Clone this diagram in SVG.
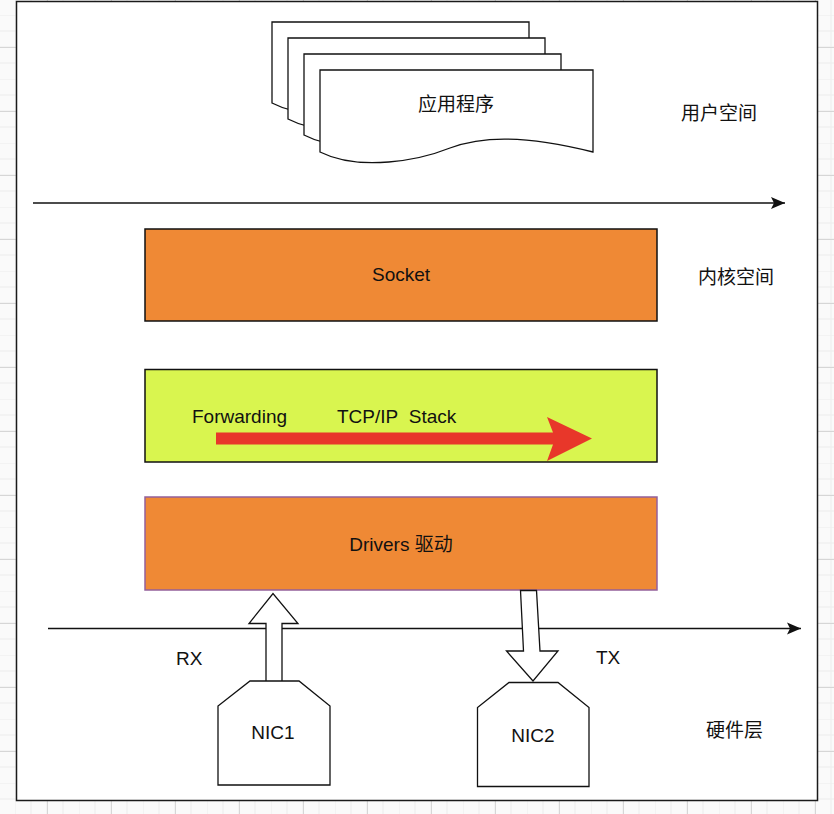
<svg xmlns="http://www.w3.org/2000/svg" width="834" height="814" viewBox="0 0 834 814">
<defs>
<pattern id="grid" x="15" y="15" width="64" height="64" patternUnits="userSpaceOnUse">
<path d="M0,0 H64 M0,16 H64 M0,32 H64 M0,48 H64 M0,0 V64 M16,0 V64 M32,0 V64 M48,0 V64" stroke="#ececec" stroke-width="1" fill="none"/>
<path d="M0,32.5 H64 M32.5,0 V64" stroke="#d6d6d6" stroke-width="1" fill="none"/>
</pattern>
<marker id="arr" markerWidth="16" markerHeight="14" refX="14" refY="7" orient="auto" markerUnits="userSpaceOnUse">
<path d="M0,1 L14,7 L0,13 L3,7 Z" fill="#111"/>
</marker>
<style>
.t{font-family:"Liberation Sans","Noto Sans CJK SC",sans-serif;font-size:19px;fill:#111}
.c{text-anchor:middle}
.doc{fill:#fff;stroke:#111;stroke-width:1.3}
.box{stroke-width:1.5}
.orange{fill:#EF8935}
.blk{fill:#fff;stroke:#111;stroke-width:1.3;stroke-linejoin:miter}
</style>
</defs>
<rect width="834" height="814" fill="#fafafa"/>
<rect width="834" height="814" fill="url(#grid)"/>
<rect id="frame" x="16.5" y="1.5" width="801" height="799" fill="#fff" stroke="#1a1a1a" stroke-width="1.5"/>

<g id="apps">
<path class="doc" d="M272,22 H529 V103 C460,85 422,88 394,99 C366,111 310,123 272,103 Z"/>
<path class="doc" d="M288,38 H545 V119 C476,101 438,104 410,115 C382,127 326,139 288,119 Z"/>
<path class="doc" d="M304,54 H561 V135 C492,117 454,120 426,131 C398,143 342,155 304,135 Z"/>
<path class="doc" d="M320,70 H593 V152 C520,134 480,137 450,148 C420,160 360,172 320,152 Z"/>
<text class="t c" x="456" y="111">应用程序</text>
</g>

<g id="labels">
<text class="t" x="681" y="120">用户空间</text>
<text class="t" x="698" y="284">内核空间</text>
<text class="t" x="706" y="737">硬件层</text>
<text class="t" x="176" y="665">RX</text>
<text class="t" x="596" y="664">TX</text>
</g>

<g id="connectors" fill="none" stroke="#111" stroke-width="1.3">
<line x1="33" y1="203" x2="785" y2="203" marker-end="url(#arr)"/>
<line x1="48" y1="628.5" x2="801" y2="628.5" marker-end="url(#arr)"/>
</g>

<g id="socket">
<rect class="box orange" x="145" y="229" width="512" height="92" stroke="#111"/>
<text class="t c" x="401" y="281">Socket</text>
</g>

<g id="stack">
<rect class="box" x="145" y="369.5" width="512" height="92.5" fill="#D9F54F" stroke="#111"/>
<path d="M216,432.5 H553 L547,417 L592,438.5 L547,461 L553,444.5 H216 Z" fill="#E8372A"/>
<text class="t" x="192" y="422.5">Forwarding</text>
<text class="t" x="337" y="422.5">TCP/IP&#160;&#160;Stack</text>
</g>

<g id="drivers">
<rect class="box orange" x="145" y="497" width="512" height="93" stroke="#94609A"/>
<text class="t c" x="401" y="550.5">Drivers 驱动</text>
</g>

<g id="rx-arrow">
<path class="blk" d="M266,681 V623.5 H249 L273,593.5 L298,623.5 H282 V681"/>
</g>
<g id="tx-arrow">
<path class="blk" d="M520.5,590.5 H536.5 L540,651 H558 L533,681 L506.5,651 H523.5 Z"/>
</g>

<g id="nic1">
<path class="blk" d="M250,681 H299 L330,706 V785 H218 V706 Z"/>
<text class="t c" x="273" y="739">NIC1</text>
</g>
<g id="nic2">
<path class="blk" d="M509,682.5 H558 L589,707.5 V786.5 H477.5 V707.5 Z"/>
<text class="t c" x="533" y="742">NIC2</text>
</g>
</svg>
